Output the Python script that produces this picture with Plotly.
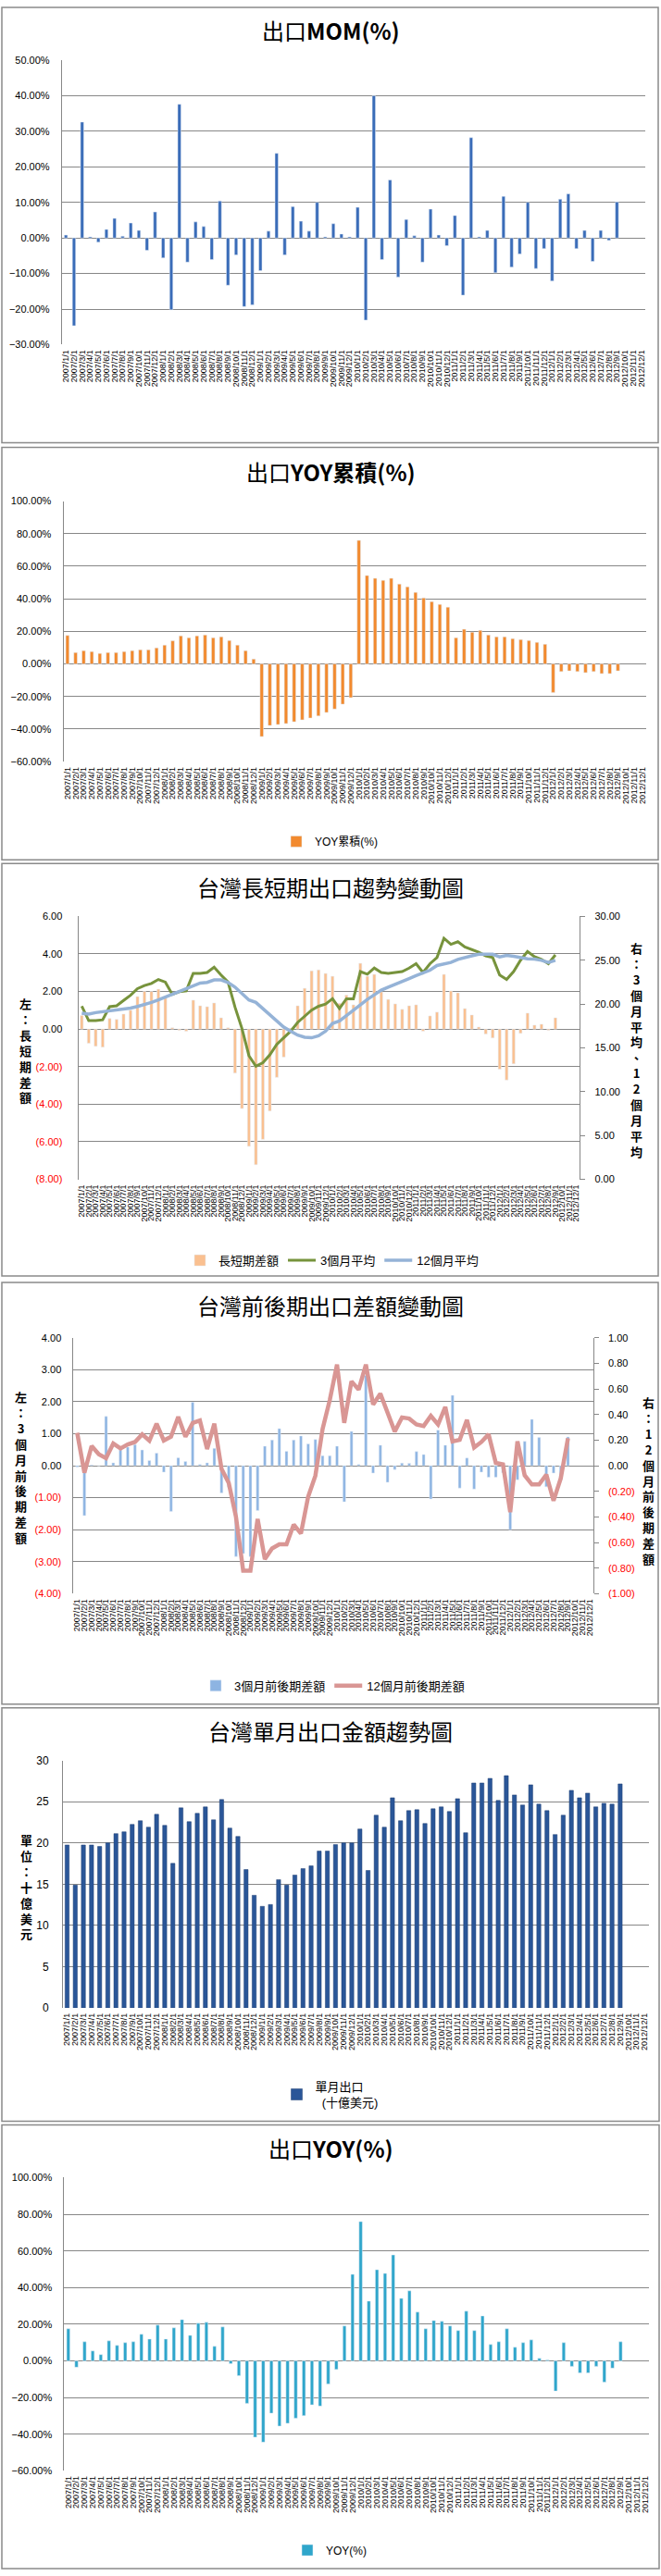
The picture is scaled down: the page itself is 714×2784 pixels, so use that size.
import plotly.graph_objects as go

W, H = 714, 2784

def fx(px):
    return px / W

def fy(py):
    return 1 - py / H

dates = [
    "2007/1/1", "2007/2/1", "2007/3/1", "2007/4/1", "2007/5/1", "2007/6/1",
    "2007/7/1", "2007/8/1", "2007/9/1", "2007/10/1", "2007/11/1", "2007/12/1",
    "2008/1/1", "2008/2/1", "2008/3/1", "2008/4/1", "2008/5/1", "2008/6/1",
    "2008/7/1", "2008/8/1", "2008/9/1", "2008/10/1", "2008/11/1", "2008/12/1",
    "2009/1/1", "2009/2/1", "2009/3/1", "2009/4/1", "2009/5/1", "2009/6/1",
    "2009/7/1", "2009/8/1", "2009/9/1", "2009/10/1", "2009/11/1", "2009/12/1",
    "2010/1/1", "2010/2/1", "2010/3/1", "2010/4/1", "2010/5/1", "2010/6/1",
    "2010/7/1", "2010/8/1", "2010/9/1", "2010/10/1", "2010/11/1", "2010/12/1",
    "2011/1/1", "2011/2/1", "2011/3/1", "2011/4/1", "2011/5/1", "2011/6/1",
    "2011/7/1", "2011/8/1", "2011/9/1", "2011/10/1", "2011/11/1", "2011/12/1",
    "2012/1/1", "2012/2/1", "2012/3/1", "2012/4/1", "2012/5/1", "2012/6/1",
    "2012/7/1", "2012/8/1", "2012/9/1", "2012/10/1", "2012/11/1", "2012/12/1",
]

# 出口MOM(%)
mom = [0.8, -24.7, 32.6, 0.3, -1.2, 2.4, 5.5, 0.5, 4.2, 2.1, -3.5, 7.3,
       -5.6, -20.2, 37.6, -6.8, 4.5, 3.2, -6.1, 10.4, -13.3, -4.8, -19.3, -18.8,
       -9.2, 1.9, 23.8, -4.8, 8.8, 4.7, 1.9, 10.0, 0.3, 4.0, 1.1, 0.3,
       8.6, -23.1, 40.0, -6.1, 16.3, -11.0, 5.2, 0.6, -6.8, 8.1, 0.8, -2.2,
       6.3, -16.1, 28.2, 0.3, 2.1, -9.8, 11.7, -8.2, -4.5, 10.0, -8.6, -3.0,
       -12.1, 10.9, 12.4, -3.0, 2.1, -6.6, 2.1, -0.7, 10.1]

# 出口YOY累積(%)
yoy_cum = [17.5, 7.0, 8.2, 7.6, 6.5, 7.0, 7.0, 7.6, 8.2, 8.7, 8.7, 9.9,
           11.6, 14.2, 17.3, 16.1, 17.3, 17.8, 16.1, 16.7, 14.4, 11.6, 8.2, 3.0,
           -44.6, -37.8, -37.2, -36.6, -35.5, -34.3, -33.2, -31.9, -29.8, -27.7, -24.7, -20.7,
           75.9, 54.3, 52.6, 51.4, 52.6, 49.1, 47.4, 44.0, 40.6, 38.3, 36.6, 34.9,
           16.1, 21.3, 19.5, 20.7, 17.8, 16.7, 16.7, 15.6, 15.0, 14.4, 13.3, 12.1,
           -17.5, -4.7, -4.2, -4.7, -5.3, -4.7, -5.9, -5.9, -4.2]

# 台灣長短期出口趨勢變動圖
ls_diff = [0.72, -0.75, -0.92, -0.96, 0.56, 0.51, 0.80, 1.00, 1.73, 2.00, 2.00, 2.12,
           1.65, 0.07, -0.07, -0.11, 1.54, 1.24, 1.19, 1.39, 0.60, 0.07, -2.34, -4.23,
           -6.24, -7.22, -5.87, -4.36, -2.57, -1.49, 0.05, 1.24, 2.17, 3.10, 3.15, 2.96,
           2.81, 1.37, 1.81, 1.29, 3.50, 2.81, 2.91, 1.98, 1.58, 1.34, 1.05, 1.24,
           1.29, -0.11, 0.70, 0.90, 2.91, 2.03, 1.93, 1.09, 0.75, 0.11, -0.26, -0.47,
           -2.14, -2.71, -1.85, -0.23, 0.85, 0.21, 0.26, -0.07, 0.60]
avg3 = [19.75, 18.1, 18.1, 18.2, 19.7, 19.8, 20.4, 21.0, 21.75, 22.1, 22.35, 22.8,
        22.5, 21.1, 21.4, 21.5, 23.5, 23.5, 23.6, 24.2, 23.3, 22.5, 19.65, 17.2,
        14.1, 12.9, 13.3, 14.2, 15.4, 16.1, 16.9, 17.9, 18.6, 19.3, 19.75, 20.0,
        20.6, 19.5, 20.6, 20.6, 23.7, 23.4, 24.1, 23.6, 23.5, 23.6, 23.7, 24.1,
        24.6, 23.6, 24.6, 25.3, 27.5, 26.8, 27.1, 26.5, 26.2, 25.9, 25.5, 25.3,
        23.3, 22.8, 23.7, 25.0, 26.0, 25.4, 25.1, 24.6, 25.6]
avg12 = [18.95, 18.84, 19.02, 19.12, 19.16, 19.3, 19.4, 19.54, 19.72, 19.93, 20.18, 20.46,
         20.77, 21.12, 21.4, 21.75, 22.1, 22.39, 22.46, 22.74, 22.74, 22.46, 21.93, 21.23,
         20.46, 20.18, 19.47, 18.77, 18.07, 17.37, 16.9, 16.45, 16.22, 16.15, 16.38, 16.9,
         17.79, 18.07, 18.67, 19.3, 20.0, 20.53, 21.05, 21.58, 21.93, 22.28, 22.63, 22.91,
         23.23, 23.5, 23.86, 24.39, 24.56, 24.74, 25.09, 25.33, 25.5, 25.68, 25.68, 25.68,
         25.37, 25.54, 25.44, 25.26, 25.16, 25.12, 24.98, 24.74, 24.98]

# 台灣前後期出口差額變動圖
diff3 = [-0.04, -1.56, 0.02, 0.0, 1.54, 0.09, 0.49, 0.58, 0.66, 0.49, 0.16, 0.39,
         -0.2, -1.43, 0.25, 0.13, 1.98, 0.04, 0.09, 0.54, -0.85, -0.67, -2.84, -2.75,
         -2.84, -1.4, 0.61, 0.8, 1.16, 0.45, 0.8, 0.93, 0.68, 0.82, 0.31, 0.31,
         0.61, -1.13, 1.07, 0.04, 2.82, -0.23, 0.64, -0.52, -0.12, 0.08, 0.07, 0.44,
         0.35, -1.04, 1.11, 0.64, 2.2, -0.7, 0.24, -0.73, -0.2, -0.36, -0.36, -0.22,
         -2.0, -0.44, 0.76, 1.45, 0.88, -0.66, -0.23, -0.45, 0.9]
diff12 = [0.257, -0.055, 0.154, 0.089, 0.058, 0.173, 0.135, 0.166, 0.185, 0.245, 0.195, 0.329,
          0.197, 0.226, 0.382, 0.226, 0.334, 0.353, 0.13, 0.329, -0.026, -0.135, -0.4, -0.82,
          -0.82, -0.416, -0.73, -0.647, -0.615, -0.615, -0.46, -0.53, -0.243, -0.079, 0.286, 0.514,
          0.79, 0.334, 0.659, 0.594, 0.79, 0.478, 0.563, 0.418, 0.267, 0.377, 0.368, 0.322,
          0.31, 0.389, 0.322, 0.459, 0.19, 0.202, 0.358, 0.142, 0.185, 0.245, 0.022, 0.01,
          -0.363, 0.19, -0.075, -0.147, -0.147, -0.07, -0.274, -0.099, 0.214]

# 台灣單月出口金額趨勢圖 (十億美元)
exports = [19.76, 14.89, 19.76, 19.76, 19.58, 20.02, 21.14, 21.36, 22.26, 22.7, 21.92, 23.48,
           22.14, 17.53, 24.26, 22.59, 23.6, 24.38, 22.81, 25.27, 21.81, 20.8, 16.78, 13.66,
           12.32, 12.54, 15.56, 14.89, 16.11, 16.9, 17.23, 19.02, 19.02, 19.8, 20.02, 20.02,
           21.7, 16.67, 23.37, 21.92, 25.49, 22.7, 23.93, 24.04, 22.37, 24.15, 24.38, 23.82,
           25.38, 21.25, 27.28, 27.28, 27.84, 25.16, 28.17, 25.83, 24.6, 27.06, 24.71, 23.93,
           21.03, 23.37, 26.39, 25.49, 26.05, 24.38, 24.82, 24.71, 27.17]

# 出口YOY(%)
yoy = [17.5, -3.5, 10.4, 5.4, 3.4, 10.9, 8.4, 9.9, 10.4, 14.5, 11.9, 19.5,
       11.9, 18.0, 22.5, 13.9, 20.5, 21.0, 7.9, 18.5, -1.5, -8.1, -23.2, -41.7,
       -44.4, -28.6, -35.6, -34.1, -31.3, -29.9, -24.0, -24.7, -12.6, -4.7, 19.0, 47.2,
       76.0, 32.6, 49.7, 47.7, 57.8, 34.1, 38.2, 26.6, 17.5, 22.0, 21.5, 19.0,
       16.5, 27.1, 16.5, 24.5, 8.9, 10.4, 17.5, 7.4, 9.9, 11.4, 1.3, 0.5,
       -16.5, 9.9, -3.0, -6.6, -6.6, -3.0, -11.6, -4.0, 10.4]

GRID = "#878787"
FONT = "Liberation Sans, Arial, Noto Sans CJK TC, sans-serif"
CJK = "Noto Sans CJK TC, sans-serif"
RED = "#FF0000"

# plot-area pixel geometry per panel (left, right, top, bottom)
P = {
    1: dict(l=66, r=698, t=58.3, b=367.3, ty=26, ly=454, box=(1, 1, 712, 474)),
    2: dict(l=67.7, r=699, t=537.3, b=820.3, ty=505, ly=907, box=(1, 479, 712, 927)),
    3: dict(l=83.8, r=627, t=988.3, b=1274, ty=956, ly=1362, box=(1, 931, 712, 1379)),
    4: dict(l=78.7, r=641.6, t=1446, b=1724, ty=1411, ly=1824, box=(1, 1386, 712, 1844)),
    5: dict(l=67.3, r=701.6, t=1905.3, b=2174, ty=1873, ly=2268, box=(1, 1848, 713, 2297)),
    6: dict(l=68.6, r=702, t=2358.3, b=2676.7, ty=2326, ly=2763, box=(1, 2301, 713, 2783)),
}

n = len(mom)
xd = dates[:n]

fig = go.Figure()

# Panel 1
fig.add_trace(go.Bar(x=xd, y=mom, name="MOM(%)", marker_color="#3A6CB8", width=0.4,
                     xaxis="x", yaxis="y", legend="legend"))
# Panel 2
fig.add_trace(go.Bar(x=xd, y=yoy_cum, name="YOY累積(%)", marker_color="#F28A2E", width=0.42,
                     xaxis="x2", yaxis="y2", legend="legend2"))
# Panel 3
fig.add_trace(go.Bar(x=xd, y=ls_diff, name="長短期差額", marker_color="#FAC090", width=0.42,
                     xaxis="x3", yaxis="y3", legend="legend3"))
fig.add_trace(go.Scatter(x=xd, y=avg3, name="3個月平均", mode="lines",
                         line=dict(color="#77933C", width=3),
                         xaxis="x3", yaxis="y4", legend="legend3"))
fig.add_trace(go.Scatter(x=xd, y=avg12, name="12個月平均", mode="lines",
                         line=dict(color="#95B3D7", width=3.5),
                         xaxis="x3", yaxis="y4", legend="legend3"))
# Panel 4
fig.add_trace(go.Bar(x=xd, y=diff3, name="3個月前後期差額", marker_color="#8DB4E2", width=0.38,
                     xaxis="x4", yaxis="y5", legend="legend4"))
fig.add_trace(go.Scatter(x=xd, y=diff12, name="12個月前後期差額", mode="lines",
                         line=dict(color="#D99694", width=4.5),
                         xaxis="x4", yaxis="y6", legend="legend4"))
# Panel 5
fig.add_trace(go.Bar(x=xd, y=exports, name="單月出口<br>  (十億美元)", marker_color="#2A5698",
                     marker_line=dict(color="#1F3F73", width=0.5), width=0.5,
                     xaxis="x5", yaxis="y7", legend="legend5"))
# Panel 6
fig.add_trace(go.Bar(x=xd, y=yoy, name="YOY(%)", marker_color="#2FA6CB", width=0.4,
                     xaxis="x6", yaxis="y8", legend="legend6"))


def xaxis_cfg(p, anchor):
    g = P[p]
    return dict(domain=[fx(g["l"]), fx(g["r"])], anchor=anchor, type="category",
                categoryorder="array", categoryarray=dates, tickmode="array",
                tickvals=dates, ticktext=dates, tickangle=-90,
                tickfont=dict(size=9, family=FONT, color="black"),
                ticks="", showgrid=False, showline=False, zeroline=False,
                range=[-0.5, len(dates) - 0.5], ticklabelstandoff=3, fixedrange=True)


def yaxis_cfg(p, anchor, rng, dtick, **kw):
    g = P[p]
    d = dict(domain=[fy(g["b"]), fy(g["t"])], anchor=anchor, range=rng, dtick=dtick,
             tick0=rng[0], showgrid=True, gridcolor=GRID, gridwidth=1, zeroline=False,
             showline=True, linecolor=GRID, linewidth=1, ticks="",
             tickfont=dict(size=11, family=FONT, color="black"),
             ticklabelstandoff=10, fixedrange=True)
    d.update(kw)
    return d


def paren_labels(vals, fmt="{:.2f}"):
    out = []
    for v in vals:
        if v < 0:
            out.append('<span style="color:%s">(%s)</span>' % (RED, fmt.format(-v)))
        else:
            out.append(fmt.format(v))
    return out


lay = {}
lay["xaxis"] = xaxis_cfg(1, "y")
lay["yaxis"] = yaxis_cfg(1, "x", [-30, 50], 10, ticksuffix="%", tickformat=".2f")
lay["xaxis2"] = xaxis_cfg(2, "y2")
lay["yaxis2"] = yaxis_cfg(2, "x2", [-60, 100], 20, ticksuffix="%", tickformat=".2f")
lay["xaxis3"] = xaxis_cfg(3, "y3")
v3 = [-8, -6, -4, -2, 0, 2, 4, 6]
lay["yaxis3"] = yaxis_cfg(3, "x3", [-8, 6], 2, tickmode="array", tickvals=v3,
                          ticktext=paren_labels(v3), ticklabelstandoff=14)
v4 = [0, 5, 10, 15, 20, 25, 30]
lay["yaxis4"] = yaxis_cfg(3, "x3", [0, 30], 5, overlaying="y3", side="right", showgrid=False,
                          tickmode="array", tickvals=v4, ticktext=["%.2f" % v for v in v4],
                          ticks="outside", ticklen=5, tickcolor=GRID, ticklabelstandoff=8)
lay["xaxis4"] = xaxis_cfg(4, "y5")
v5 = [-4, -3, -2, -1, 0, 1, 2, 3, 4]
lay["yaxis5"] = yaxis_cfg(4, "x4", [-4, 4], 1, tickmode="array", tickvals=v5,
                          ticktext=paren_labels(v5), ticklabelstandoff=10)
v6 = [-1.0, -0.8, -0.6, -0.4, -0.2, 0.0, 0.2, 0.4, 0.6, 0.8, 1.0]
lay["yaxis6"] = yaxis_cfg(4, "x4", [-1, 1], 0.2, overlaying="y5", side="right", showgrid=False,
                          tickmode="array", tickvals=v6, ticktext=paren_labels(v6),
                          ticks="outside", ticklen=5, tickcolor=GRID, ticklabelstandoff=8)
lay["xaxis5"] = xaxis_cfg(5, "y7")
lay["yaxis7"] = yaxis_cfg(5, "x5", [0, 30], 5, tickfont=dict(size=12, family=FONT, color="black"),
                          ticklabelstandoff=12)
lay["xaxis6"] = xaxis_cfg(6, "y8")
lay["yaxis8"] = yaxis_cfg(6, "x6", [-60, 100], 20, ticksuffix="%", tickformat=".2f")

# category-boundary tick marks on the value-zero line of each panel
zero_specs = [(1, "x", [-30, 50]), (2, "x2", [-60, 100]), (3, "x3", [-8, 6]),
              (4, "x4", [-4, 4]), (5, "x5", [0, 30]), (6, "x6", [-60, 100])]
for k, (p, xid, rng) in enumerate(zero_specs):
    g = P[p]
    zero_px = g["t"] + (g["b"] - g["t"]) * (rng[1] - 0) / (rng[1] - rng[0])
    lay["xaxis%d" % (7 + k)] = dict(
        overlaying=xid, anchor="free", position=fy(zero_px), side="bottom", type="linear",
        range=[-0.5, len(dates) - 0.5], tickmode="array",
        tickvals=[i - 0.5 for i in range(len(dates) + 1)], ticks="inside", ticklen=5,
        tickcolor=GRID, tickwidth=1, showticklabels=False, showgrid=False, zeroline=False,
        showline=True, linecolor=GRID, linewidth=1, fixedrange=True)

# legends
leg_common = dict(orientation="h", xanchor="center", yanchor="middle", bgcolor="rgba(0,0,0,0)",
                  itemclick=False, itemdoubleclick=False)
lay["legend"] = dict(x=fx(357), y=fy(P[1]["ly"]), font=dict(size=11, family=FONT), **leg_common)
lay["legend2"] = dict(x=fx(357), y=fy(P[2]["ly"]), font=dict(size=12, family=FONT), **leg_common)
lay["legend3"] = dict(x=fx(359), y=fy(P[3]["ly"]), font=dict(size=13, family=FONT), **leg_common)
lay["legend4"] = dict(x=fx(360), y=fy(P[4]["ly"]), font=dict(size=13, family=FONT), **leg_common)
lay["legend5"] = dict(x=fx(357), y=fy(P[5]["ly"]), font=dict(size=13, family=FONT), **leg_common)
lay["legend6"] = dict(x=fx(357), y=fy(P[6]["ly"]), font=dict(size=12, family=FONT), **leg_common)

annotations = []
titles = [(1, "出口<b>MOM(%)</b>"), (2, "出口<b>YOY累積(%)</b>"), (3, "台灣長短期出口趨勢變動圖"),
          (4, "台灣前後期出口差額變動圖"), (5, "台灣單月出口金額趨勢圖"), (6, "出口<b>YOY(%)</b>")]
for p, t in titles:
    annotations.append(dict(text=t, x=fx(357), y=fy(P[p]["ty"]), xref="paper", yref="paper",
                            xanchor="center", yanchor="middle", showarrow=False,
                            font=dict(size=24, family=CJK, color="black")))


def vtext(s):
    return "<b>" + "<br>".join(list(s)) + "</b>"


vtitles = [("左：長短期差額", 27, 1134), ("右：3個月平均、12個月平均", 688, 1133),
           ("左：3個月前後期差額", 22, 1586), ("右：12個月前後期差額", 701, 1601),
           ("單位：十億美元", 28, 2042)]
for s, x, y in vtitles:
    annotations.append(dict(text=vtext(s), x=fx(x), y=fy(y), xref="paper", yref="paper",
                            xanchor="center", yanchor="middle", showarrow=False, align="center",
                            font=dict(size=13, family=CJK, color="black")))

shapes = []
for p in P:
    x0, y0, x1, y1 = P[p]["box"]
    shapes.append(dict(type="rect", xref="paper", yref="paper", x0=fx(x0), x1=fx(x1),
                       y0=fy(y1), y1=fy(y0), line=dict(color="#8A8A8A", width=1.5),
                       fillcolor="rgba(0,0,0,0)", layer="below"))

fig.update_layout(**lay)
fig.update_layout(width=W, height=H, autosize=False, margin=dict(l=0, r=0, t=0, b=0),
                  paper_bgcolor="white", plot_bgcolor="white", barmode="overlay",
                  annotations=annotations, shapes=shapes, hovermode=False,
                  font=dict(family=FONT, color="black"))

fig.write_html("out.html", config={"displayModeBar": False},
               post_script="document.body.style.margin='0';document.body.style.padding='0';")
